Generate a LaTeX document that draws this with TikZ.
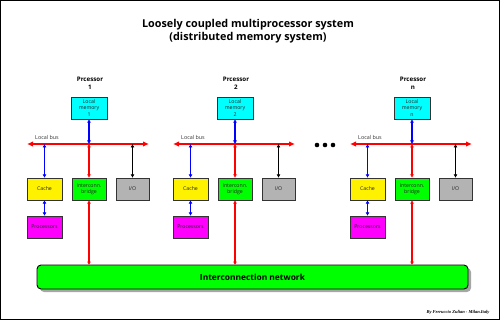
\documentclass[tikz,border=0pt]{standalone}
\usepackage{fontspec}
\setmainfont{Open Sans}
\newfontfamily\creditfont{Liberation Serif}
\usetikzlibrary{arrows.meta,shadows}
\definecolor{iogray}{HTML}{B3B3B3}
\definecolor{buscol}{HTML}{FF0000}
\definecolor{linkblue}{HTML}{0000FF}
\definecolor{memcyan}{HTML}{00FFFF}
\definecolor{procmag}{HTML}{FF00FF}
\definecolor{brgreen}{HTML}{00FF00}
\tikzset{
  unit/.style={draw=black!80, line width=0.4pt, minimum height=22pt, inner sep=0pt,
    align=center, font=\fontsize{5.2}{6.2}\selectfont, text=black!85,
    drop shadow={shadow xshift=1.2pt, shadow yshift=-1.2pt, fill=black, opacity=1}},
  buswire/.style={buscol, line width=2.2pt, {Latex[length=6pt,width=5.5pt]}-{Latex[length=6pt,width=5.5pt]}},
  link/.style={line width=1.3pt, {Latex[length=3.5pt,width=4pt]}-{Latex[length=3.5pt,width=4pt]}},
  bluelink/.style={link, linkblue},
  redlink/.style={link, buscol},
  blacklink/.style={link, black},
  plabel/.style={font=\fontsize{6.2}{8}\selectfont\bfseries, align=center},
  buslabel/.style={font=\fontsize{5.4}{6}\selectfont, text=black!80},
  dotmark/.style={circle, fill=black, inner sep=0pt, minimum size=4.6pt}
}
\begin{document}
\begin{tikzpicture}[x=1pt,y=-1pt]
\useasboundingbox (0,0) rectangle (500,320);
\draw[line width=1pt] (0.5,0.5) rectangle (499.5,319.5);
\node[font=\fontsize{10.8}{13.5}\selectfont\bfseries, align=center] (title) at (248,31)
  {Loosely coupled multiprocessor system\\(distributed memory system)};

\node[draw=black, line width=0.9pt, fill=brgreen, rounded corners=4pt,
  minimum width=431pt, minimum height=24pt,
  drop shadow={shadow xshift=3pt, shadow yshift=-3pt, fill=black!35, opacity=1},
  font=\fontsize{8.4}{9}\selectfont\bfseries] (net) at (252.5,277) {Interconnection network};

\foreach \dx/\n in {0/1,146/2,323/n}{
  \node[plabel] (pl\n) at (90+\dx,83) {Prcessor\\\n};
  \node[unit, fill=memcyan, minimum width=36pt] (mem\n) at (89+\dx,108) {Local\\memory\\\n};
  \node[unit, fill=yellow, minimum width=35pt] (cache\n) at (44.5+\dx,189) {Cache};
  \node[unit, fill=brgreen, minimum width=34pt] (br\n) at (89+\dx,189) {Interconn.\\bridge};
  \node[unit, fill=iogray, minimum width=33pt] (io\n) at (132.5+\dx,189) {I/O};
  \node[unit, fill=procmag, minimum width=35pt] (pr\n) at (44.5+\dx,227) {Processors};
  \coordinate (busL\n) at (27+\dx,144);
  \coordinate (busR\n) at (149+\dx,144);
  \coordinate (busC\n) at (44.5+\dx,144);
  \coordinate (busM\n) at (89+\dx,144);
  \coordinate (busI\n) at (132.5+\dx,144);
  \coordinate (netT\n) at (89+\dx,265);
  \draw[buswire] (busL\n) -- (busR\n);
  \node[buslabel] (bl\n) at (47+\dx,137) {Local bus};
  \draw[bluelink] (mem\n.south) -- (busM\n);
  \draw[bluelink] (busC\n) -- (cache\n.north);
  \draw[bluelink] (cache\n.south) -- (pr\n.north);
  \draw[redlink] (busM\n) -- (br\n.north);
  \draw[blacklink] (busI\n) -- (io\n.north);
  \draw[redlink] (br\n.south) -- (netT\n);
}
\node[dotmark] (d1) at (317,145) {};
\node[dotmark] (d2) at (325,145) {};
\node[dotmark] (d3) at (333,145) {};
\node[font=\creditfont\fontsize{4.5}{5}\selectfont\bfseries\itshape, anchor=east] (credit) at (493,312) {By Ferruccio Zulian - Milan.Italy};
\end{tikzpicture}
\end{document}
